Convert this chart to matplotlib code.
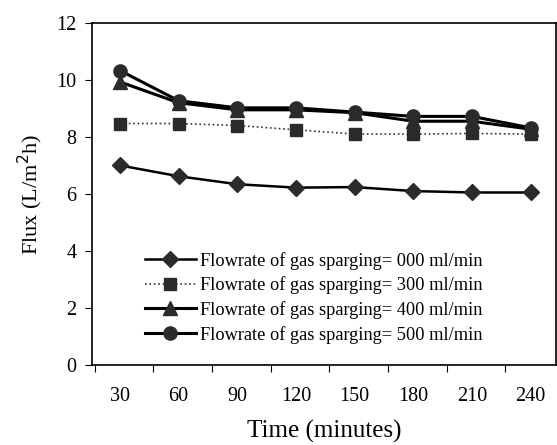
import matplotlib.pyplot as plt

# ******************* data *******************
times = [30, 60, 90, 120, 150, 180, 210, 240]
flux_000 = [7.0, 6.62, 6.34, 6.22, 6.24, 6.1, 6.05, 6.05]
flux_300 = [8.47, 8.47, 8.4, 8.25, 8.1, 8.1, 8.12, 8.1]
flux_400 = [9.93, 9.2, 8.95, 8.95, 8.85, 8.55, 8.55, 8.27]
flux_500 = [10.33, 9.27, 9.02, 9.02, 8.87, 8.72, 8.72, 8.32]

plt.rcParams['font.family'] = ['Liberation Serif', 'DejaVu Serif']

fig = plt.figure(figsize=(5.57, 4.45), dpi=100)
ax = fig.add_axes([0.165, 0.18, 0.833, 0.7685])

pos = list(range(1, len(times) + 1))
mk = '#2b2b2b'

ax.plot(pos, flux_000, color='black', lw=1.8, marker='D', ms=8,
        mfc=mk, mec=mk, label='Flowrate of gas sparging= 000 ml/min')
ax.plot(pos, flux_300, color='#333333', lw=1.2, ls=':', marker='s', ms=9,
        mfc=mk, mec=mk, label='Flowrate of gas sparging= 300 ml/min')
ax.plot(pos, flux_400, color='black', lw=2.2, marker='^', ms=9.5,
        mfc=mk, mec=mk, label='Flowrate of gas sparging= 400 ml/min')
ax.plot(pos, flux_500, color='black', lw=2.2, marker='o', ms=9.5,
        mfc=mk, mec=mk, label='Flowrate of gas sparging= 500 ml/min')

ax.set_xlim(0.523, 8.43)
ax.set_ylim(0, 12)
ax.set_yticks(range(0, 13, 2))

# tick marks between categories, labels under the points
ax.set_xticks([0.57 + k for k in range(8)])
ax.set_xticklabels([])
ax.set_xticks(pos, minor=True)
ax.set_xticklabels([str(t) for t in times], minor=True)
ax.tick_params(axis='x', which='minor', length=0, pad=16, labelsize=14.5)
ax.tick_params(axis='x', which='major', length=5, direction='out')
ax.tick_params(axis='y', length=5, direction='out', labelsize=14.5, pad=6)

for s in ax.spines.values():
    s.set_linewidth(1.2)

ax.set_xlabel('Time (minutes)', fontsize=18, labelpad=10)
ax.set_ylabel('Flux (L/m$^2$h)', fontsize=16, labelpad=8)

ax.legend(loc='lower left', bbox_to_anchor=(0.098, 0.041), frameon=False,
          fontsize=13.2, handlelength=2.8, handletextpad=0.2,
          labelspacing=0.37, borderaxespad=0)

fig.savefig('out.png', dpi=100)
